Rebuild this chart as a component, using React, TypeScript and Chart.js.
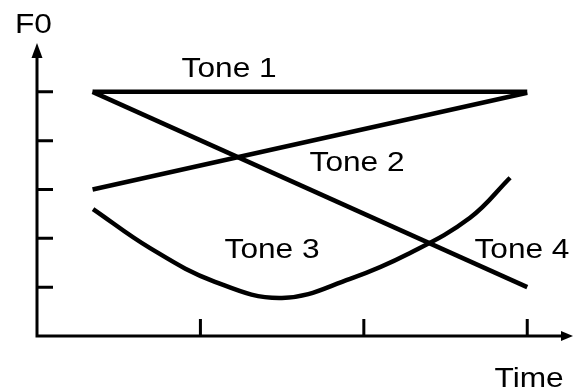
import React, { useEffect, useRef } from "react";
import { Chart, registerables } from "chart.js";

Chart.register(...registerables);

// Axis ticks (data units)
const xTicks = [1, 2, 3];
const yTicks = [1, 2, 3, 4, 5];
const xMax = 3.28;
const yMax = 6;

// Tone contours (time, F0)
const tone1X = [0.34, 3.0];
const tone1Y = [5, 5];
const tone2X = [0.34, 3.0];
const tone2Y = [3, 4.98];
const tone4X = [0.34, 3.0];
const tone4Y = [5, 1];
const tone3X = [0.343, 0.692, 1.089, 1.499, 1.916, 2.283, 2.65, 2.895];
const tone3Y = [2.6, 1.8, 1.11, 0.78, 1.17, 1.7, 2.42, 3.24];

// Text labels (anchored in data units)
const labelTexts = ["Tone 1", "Tone 2", "Tone 3", "Tone 4", "F0", "Time"];
const labelX = [0.885, 1.668, 1.148, 2.677, -0.135, 2.8];
const labelY = [5.31, 3.37, 1.598, 1.598, 6.2, -1.04];

const toPts = (xs: number[], ys: number[]) => xs.map((x, i) => ({ x, y: ys[i] }));

const axesPlugin = {
  id: "axesPlugin",
  afterDraw(chart: any) {
    const ctx = chart.ctx as CanvasRenderingContext2D;
    const xs = chart.scales.x;
    const ys = chart.scales.y;
    const ox = xs.getPixelForValue(0);
    const oy = ys.getPixelForValue(0);
    const top = ys.getPixelForValue(yMax);
    const right = xs.getPixelForValue(xMax);
    ctx.save();
    ctx.strokeStyle = "#000";
    ctx.fillStyle = "#000";
    ctx.lineWidth = 3;
    ctx.lineCap = "butt";
    // axes
    ctx.beginPath();
    ctx.moveTo(ox, oy + 1.5);
    ctx.lineTo(ox, top + 12);
    ctx.moveTo(ox - 1.5, oy);
    ctx.lineTo(right - 9, oy);
    ctx.stroke();
    // arrows
    ctx.beginPath();
    ctx.moveTo(ox, top);
    ctx.lineTo(ox - 5.5, top + 15);
    ctx.lineTo(ox + 5.5, top + 15);
    ctx.closePath();
    ctx.fill();
    ctx.beginPath();
    ctx.moveTo(right, oy);
    ctx.lineTo(right - 12, oy - 5);
    ctx.lineTo(right - 12, oy + 5);
    ctx.closePath();
    ctx.fill();
    // ticks
    ctx.beginPath();
    yTicks.forEach((v) => {
      const py = ys.getPixelForValue(v);
      ctx.moveTo(ox, py);
      ctx.lineTo(ox + 16, py);
    });
    xTicks.forEach((v) => {
      const px = xs.getPixelForValue(v);
      ctx.moveTo(px, oy);
      ctx.lineTo(px, oy - 17);
    });
    ctx.stroke();
    // labels
    ctx.font = "28px 'Liberation Sans', Arial, sans-serif";
    ctx.textBaseline = "alphabetic";
    ctx.textAlign = "left";
    labelTexts.forEach((t, i) => {
      const px = xs.getPixelForValue(labelX[i]);
      const py = ys.getPixelForValue(labelY[i]);
      ctx.save();
      ctx.translate(px, py);
      ctx.scale(1.13, 1);
      ctx.fillText(t, 0, 0);
      ctx.restore();
    });
    ctx.restore();
  },
};

export default function App() {
  const ref = useRef<HTMLCanvasElement | null>(null);
  useEffect(() => {
    document.body.style.margin = "0";
    if (!ref.current) return;
    const common = {
      borderColor: "#000",
      borderWidth: 4.5,
      pointRadius: 0,
      fill: false,
      borderCapStyle: "butt" as const,
      borderJoinStyle: "round" as const,
    };
    const chart = new Chart(ref.current, {
      type: "line",
      data: {
        datasets: [
          { ...common, label: "Tone 1", data: toPts(tone1X, tone1Y), tension: 0 },
          { ...common, label: "Tone 2", data: toPts(tone2X, tone2Y), tension: 0 },
          { ...common, label: "Tone 3", data: toPts(tone3X, tone3Y), tension: 0.4 },
          { ...common, label: "Tone 4", data: toPts(tone4X, tone4Y), tension: 0 },
        ],
      },
      options: {
        animation: false,
        responsive: false,
        devicePixelRatio: 1,
        layout: { padding: { left: 37, right: 0, top: 43, bottom: 54 } },
        plugins: { legend: { display: false }, tooltip: { enabled: false } },
        scales: {
          x: { type: "linear", min: 0, max: xMax, display: false },
          y: { type: "linear", min: 0, max: yMax, display: false },
        },
      },
      plugins: [axesPlugin],
    });
    return () => chart.destroy();
  }, []);
  return (
    <div style={{ width: 573, height: 390, background: "#fff" }}>
      <canvas ref={ref} width={573} height={390} style={{ display: "block" }} />
    </div>
  );
}
